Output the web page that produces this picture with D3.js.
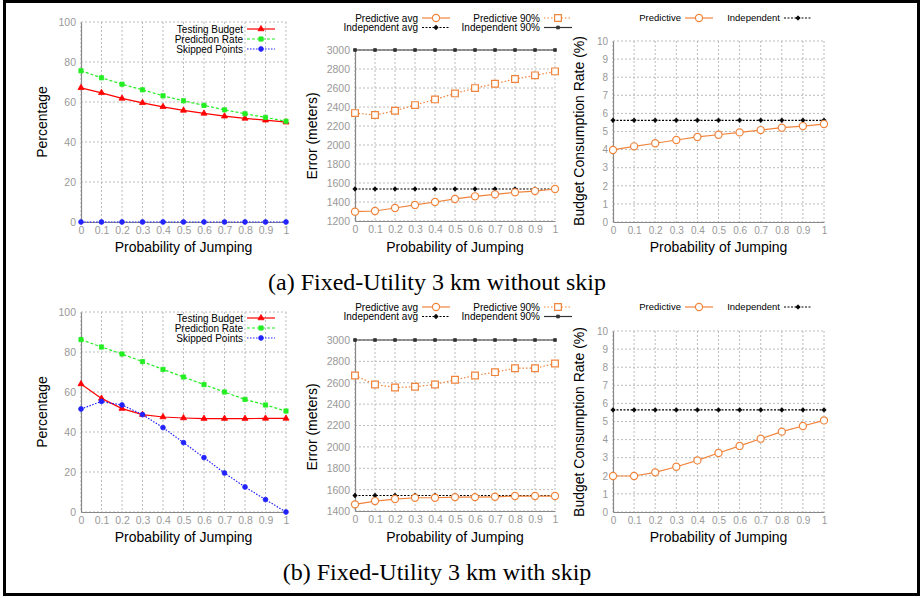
<!DOCTYPE html>
<html>
<head>
<meta charset="utf-8">
<script src="https://cdn.jsdelivr.net/npm/d3@7"></script>
<style>
  body { margin: 0; background: #fff; }
  svg { display: block; }
  text { font-family: "Liberation Sans", Arial, sans-serif; }
  .cap { font-family: "Liberation Serif", "Times New Roman", serif; }
</style>
</head>
<body>
<div id="chart"></div>
<script>
// x values shared by every panel
const probs = [0, 0.1, 0.2, 0.3, 0.4, 0.5, 0.6, 0.7, 0.8, 0.9, 1];
const probTicks = ["0", "0.1", "0.2", "0.3", "0.4", "0.5", "0.6", "0.7", "0.8", "0.9", "1"];

// (a) without skip
const budgetA   = [67.1, 64.6, 61.8, 59.6, 57.6, 55.8, 54.3, 52.9, 51.8, 50.9, 49.9];
const predRateA = [75.6, 72.1, 68.9, 66.1, 63.1, 60.6, 58.3, 56.1, 54.1, 52.3, 50.4];
const skippedA  = [0, 0, 0, 0, 0, 0, 0, 0, 0, 0, 0];
const errPredAvgA = [1298, 1305, 1337, 1369, 1400, 1432, 1460, 1481, 1502, 1515, 1537];
const errPred90A  = [2336, 2315, 2360, 2420, 2480, 2543, 2599, 2645, 2694, 2733, 2775];
const errIndAvgA  = [1537, 1537, 1537, 1537, 1537, 1537, 1537, 1537, 1537, 1537, 1537];
const errInd90A   = [3000, 3000, 3000, 3000, 3000, 3000, 3000, 3000, 3000, 3000, 3000];
const ratePredA = [3.98, 4.18, 4.35, 4.53, 4.70, 4.82, 4.95, 5.08, 5.21, 5.30, 5.41];
const rateIndA  = [5.62, 5.62, 5.62, 5.62, 5.62, 5.62, 5.62, 5.62, 5.62, 5.62, 5.62];

// (b) with skip
const budgetB   = [64.0, 56.8, 51.7, 48.7, 47.5, 47.0, 46.7, 46.7, 46.7, 46.8, 46.8];
const predRateB = [86.2, 82.5, 79.0, 75.2, 71.3, 67.5, 63.7, 60.0, 56.3, 53.5, 50.5];
const skippedB  = [51.5, 55.3, 53.5, 48.7, 42.2, 34.7, 27.2, 19.5, 12.5, 6.2, 0];
const errPredAvgB = [1462, 1493, 1512, 1524, 1524, 1530, 1530, 1533, 1540, 1540, 1540];
const errPred90B  = [2668, 2584, 2556, 2562, 2584, 2628, 2668, 2699, 2736, 2736, 2780];
const errIndAvgB  = [1545, 1545, 1545, 1545, 1545, 1545, 1545, 1545, 1545, 1545, 1545];
const errInd90B   = [3000, 3000, 3000, 3000, 3000, 3000, 3000, 3000, 3000, 3000, 3000];
const ratePredB = [1.99, 1.99, 2.19, 2.50, 2.85, 3.26, 3.65, 4.05, 4.44, 4.75, 5.06];
const rateIndB  = [5.64, 5.64, 5.64, 5.64, 5.64, 5.64, 5.64, 5.64, 5.64, 5.64, 5.64];

const pctTicks = [0, 20, 40, 60, 80, 100];
const errTicksA = [1200, 1400, 1600, 1800, 2000, 2200, 2400, 2600, 2800, 3000];
const errTicksB = [1400, 1600, 1800, 2000, 2200, 2400, 2600, 2800, 3000];
const rateTicks = [0, 1, 2, 3, 4, 5, 6, 7, 8, 9, 10];

const captions = ["(a) Fixed-Utility 3 km without skip", "(b) Fixed-Utility 3 km with skip"];

const ORANGE = "#f0843c";
const W = 922, H = 598;

const svg = d3.select("#chart").append("svg")
    .attr("width", W).attr("height", H);

// outer frame
svg.append("rect")
    .attr("x", 4.5).attr("y", 1.5).attr("width", 914).attr("height", 593)
    .attr("fill", "none").attr("stroke", "#000").attr("stroke-width", 3);

// series styles
const S = {
  budget:  { color: "#ff0000", dash: null,  sym: d3.symbolTriangle, size: 16, fill: true, label: "Testing Budget" },
  pred:    { color: "#22ee22", dash: "3,2", sym: d3.symbolSquare,   size: 18, fill: true, label: "Prediction Rate" },
  skip:    { color: "#2222ff", dash: "1.5,1.5", sym: d3.symbolCircle, size: 18, fill: true, label: "Skipped Points" },
  pAvg:    { color: ORANGE, dash: null, sym: d3.symbolCircle, size: 40, fill: false, label: "Predictive avg", w: 1.2 },
  p90:     { color: ORANGE, dash: "1.5,2", sym: d3.symbolSquare, size: 45, fill: false, label: "Predictive 90%", w: 1.2 },
  iAvg:    { color: "#000", dash: "2,1.5", sym: d3.symbolCross, size: 8, fill: true, label: "Independent avg" },
  i90:     { color: "#333", dash: null, sym: d3.symbolSquare, size: 8, fill: true, label: "Independent 90%" },
  rPred:   { color: ORANGE, dash: null, sym: d3.symbolCircle, size: 40, fill: false, label: "Predictive", w: 1.2 },
  rInd:    { color: "#000", dash: "2,1.5", sym: d3.symbolCross, size: 8, fill: true, label: "Independent" }
};

function drawPanel(p) {
  const g = svg.append("g");
  const x = d3.scaleLinear().domain([0, 1]).range([p.x0, p.x1]);
  const y = d3.scaleLinear().domain(p.yDomain).range([p.y1, p.y0]);

  // grid
  g.append("g").selectAll("line").data(probs).join("line")
      .attr("x1", d => x(d)).attr("x2", d => x(d))
      .attr("y1", p.y0).attr("y2", p.y1)
      .attr("stroke", "#bbb").attr("stroke-dasharray", "2,2");
  g.append("g").selectAll("line").data(p.yTicks).join("line")
      .attr("x1", p.x0).attr("x2", p.x1)
      .attr("y1", d => y(d)).attr("y2", d => y(d))
      .attr("stroke", "#bbb").attr("stroke-dasharray", "2,2");

  // axes
  const xAxis = d3.axisBottom(x).tickValues(probs)
      .tickFormat((d, i) => probTicks[i]).tickSize(0).tickPadding(5);
  const yAxis = d3.axisLeft(y).tickValues(p.yTicks).tickFormat(d3.format("d"))
      .tickSize(0).tickPadding(5);
  const gx = g.append("g").attr("transform", `translate(0,${p.y1})`).call(xAxis);
  const gy = g.append("g").attr("transform", `translate(${p.x0},0)`).call(yAxis);
  [gx, gy].forEach(a => {
    a.select(".domain").attr("stroke", "#888").attr("stroke-width", 1.2);
    a.selectAll("text").attr("fill", "#999").style("font-size", p.tickFont + "px");
  });

  // axis titles
  g.append("text")
      .attr("x", (p.x0 + p.x1) / 2).attr("y", p.xTitleY)
      .attr("text-anchor", "middle").style("font-size", "14px")
      .text("Probability of Jumping");
  g.append("text")
      .attr("transform", `translate(${p.yTitleX},${p.yTitleY}) rotate(-90)`)
      .attr("text-anchor", "middle").style("font-size", "14px")
      .text(p.yTitle);

  // series
  p.series.forEach(s => {
    const st = S[s.key];
    const pts = probs.map((d, i) => [d, s.values[i]]);
    g.append("path")
        .datum(pts)
        .attr("fill", "none")
        .attr("stroke", st.color)
        .attr("stroke-width", st.w || 1.2)
        .attr("stroke-dasharray", st.dash)
        .attr("d", d3.line().x(d => x(d[0])).y(d => y(d[1])));
    g.append("g").selectAll("path").data(pts).join("path")
        .attr("transform", d => `translate(${x(d[0])},${y(d[1])})`)
        .attr("d", d3.symbol().type(st.sym).size(st.size))
        .attr("fill", st.fill ? st.color : "#fff")
        .attr("stroke", st.color)
        .attr("stroke-width", st.fill ? 0.8 : 1.2);
  });

  // legend
  p.legend.forEach(l => {
    const st = S[l.key];
    const lg = g.append("g");
    lg.append("text")
        .attr("x", l.x).attr("y", l.y).attr("dy", "0.35em")
        .attr("text-anchor", "end").style("font-size", p.legFont + "px")
        .text(st.label);
    lg.append("line")
        .attr("x1", l.x + 4).attr("x2", l.x + 32)
        .attr("y1", l.y).attr("y2", l.y)
        .attr("stroke", st.color).attr("stroke-width", st.w || 1.2)
        .attr("stroke-dasharray", st.dash);
    lg.append("path")
        .attr("transform", `translate(${l.x + 18},${l.y})`)
        .attr("d", d3.symbol().type(st.sym).size(st.size))
        .attr("fill", st.fill ? st.color : "#fff")
        .attr("stroke", st.color)
        .attr("stroke-width", st.fill ? 0.8 : 1.2);
  });
}

function row(dy, d, cap, capY) {
  drawPanel({
    x0: 81, x1: 286, y0: 22 + dy, y1: 222 + dy, yDomain: [0, 100], yTicks: pctTicks,
    tickFont: 10.5, legFont: 10, yTitle: "Percentage", yTitleX: 47, yTitleY: 122 + dy,
    xTitleY: 252 + dy,
    series: [{ key: "budget", values: d.budget }, { key: "pred", values: d.predRate }, { key: "skip", values: d.skipped }],
    legend: [{ key: "budget", x: 243, y: d.leg1Y }, { key: "pred", x: 243, y: d.leg1Y + 10 }, { key: "skip", x: 243, y: d.leg1Y + 20 }]
  });
  drawPanel({
    x0: 355, x1: 555, y0: d.errY0, y1: 221 + dy, yDomain: d.errDomain, yTicks: d.errTicks,
    tickFont: 10.5, legFont: 10, yTitle: "Error (meters)", yTitleX: 317, yTitleY: d.errTitleY,
    xTitleY: 252 + dy,
    series: [{ key: "i90", values: d.ind90 }, { key: "iAvg", values: d.indAvg },
             { key: "p90", values: d.pred90 }, { key: "pAvg", values: d.predAvg }],
    legend: [{ key: "pAvg", x: 418, y: d.legY }, { key: "iAvg", x: 418, y: d.legY + 9.5 },
             { key: "p90", x: 540, y: d.legY }, { key: "i90", x: 540, y: d.legY + 9.5 }]
  });
  drawPanel({
    x0: 613, x1: 824, y0: d.rateY0, y1: 222 + dy, yDomain: [0, 10], yTicks: rateTicks,
    tickFont: 10, legFont: 9.5, yTitle: "Budget Consumption Rate (%)", yTitleX: 584, yTitleY: d.rateTitleY,
    xTitleY: 252 + dy,
    series: [{ key: "rInd", values: d.rateInd }, { key: "rPred", values: d.ratePred }],
    legend: [{ key: "rPred", x: 681, y: d.legY }, { key: "rInd", x: 780, y: d.legY }]
  });
  svg.append("text").attr("class", "cap")
      .attr("x", 437).attr("y", capY).attr("text-anchor", "middle")
      .style("font-size", "24px").text(cap);
}

row(0, {
  budget: budgetA, predRate: predRateA, skipped: skippedA,
  predAvg: errPredAvgA, pred90: errPred90A, indAvg: errIndAvgA, ind90: errInd90A,
  errY0: 50, errDomain: [1200, 3000], errTicks: errTicksA, errTitleY: 136,
  ratePred: ratePredA, rateInd: rateIndA, rateY0: 41, rateTitleY: 131, legY: 18, leg1Y: 29
}, captions[0], 290);

row(290, {
  budget: budgetB, predRate: predRateB, skipped: skippedB,
  predAvg: errPredAvgB, pred90: errPred90B, indAvg: errIndAvgB, ind90: errInd90B,
  errY0: 340, errDomain: [1400, 3000], errTicks: errTicksB, errTitleY: 427,
  ratePred: ratePredB, rateInd: rateIndB, rateY0: 331, rateTitleY: 422, legY: 307, leg1Y: 318
}, captions[1], 580);
</script>
</body>
</html>
